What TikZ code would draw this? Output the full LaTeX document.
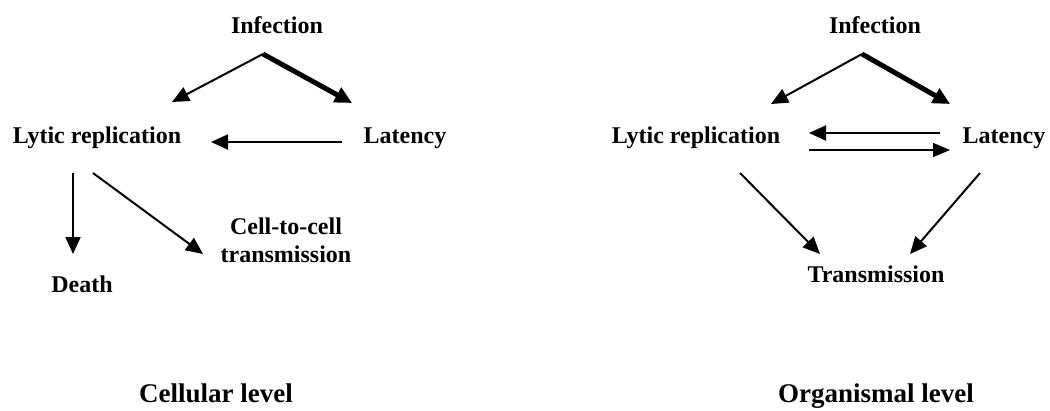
\documentclass[tikz,border=0pt]{standalone}
\usepackage{fontspec}
\setmainfont{Liberation Serif}
\usetikzlibrary{arrows.meta}
\begin{document}
\begin{tikzpicture}[x=1pt,y=-1pt,
  lbl/.style={font=\fontsize{24}{28}\selectfont\bfseries, inner sep=0pt, anchor=base, align=center},
  title/.style={font=\fontsize{27}{32}\selectfont\bfseries, inner sep=0pt, anchor=base},
  arr/.style={line width=2pt, -{Triangle[length=17pt,width=15pt]}},
  thinarr/.style={line width=1.3pt, -{Triangle[length=17pt,width=14pt]}},
  bigarr/.style={line width=5pt, -{Triangle[length=17pt,width=16pt]}}]
\useasboundingbox (0,0) rectangle (1050,410);

% ---- cellular level ----
\node[lbl] (infA) at (277,33) {Infection};
\node[lbl] (lytA) at (97,143) {Lytic replication};
\node[lbl] (latA) at (405,143) {Latency};
\node[lbl] (death) at (82,292) {Death};
\node[lbl] (c2c) at (286,262) {Cell-to-cell\\transmission};
\node[title] (cell) at (216,402) {Cellular level};

\coordinate (pkA) at (263,54);
\coordinate (lytAin) at (172,102);
\coordinate (latAin) at (352,103);
\coordinate (latAout) at (342,142);
\coordinate (lytAr) at (211,142);
\coordinate (lytAd1) at (73,173);
\coordinate (deathIn) at (73,254);
\coordinate (lytAd2) at (93,173);
\coordinate (c2cIn) at (203,254);

\draw[arr] (pkA) -- (lytAin);
\draw[bigarr] (pkA) -- (latAin);
\draw[arr] (latAout) -- (lytAr);
\draw[arr] (lytAd1) -- (deathIn);
\draw[arr] (lytAd2) -- (c2cIn);

% ---- organismal level ----
\node[lbl] (infB) at (875,33) {Infection};
\node[lbl] (lytB) at (696,143) {Lytic replication};
\node[lbl] (latB) at (1004,143) {Latency};
\node[lbl] (trans) at (876,282) {Transmission};
\node[title] (org) at (876,402) {Organismal level};

\coordinate (pkB) at (862,54);
\coordinate (lytBin) at (771,104);
\coordinate (latBin) at (950,104);
\coordinate (latBl) at (940,133);
\coordinate (lytBr) at (809,133);
\coordinate (lytBr2) at (809,150);
\coordinate (latBl2) at (950,150);
\coordinate (lytBd) at (740,173);
\coordinate (transL) at (820,254);
\coordinate (latBd) at (980,173);
\coordinate (transR) at (910,254);

\draw[arr] (pkB) -- (lytBin);
\draw[bigarr] (pkB) -- (latBin);
\draw[arr] (latBl) -- (lytBr);
\draw[thinarr] (lytBr2) -- (latBl2);
\draw[arr] (lytBd) -- (transL);
\draw[arr] (latBd) -- (transR);
\end{tikzpicture}
\end{document}
